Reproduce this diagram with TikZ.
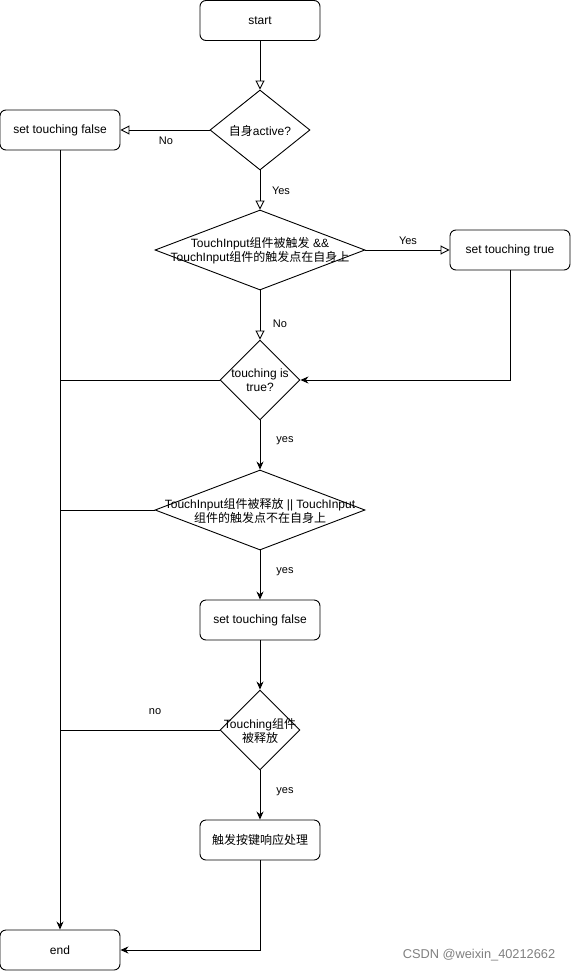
\documentclass[tikz,border=0pt]{standalone}
\usepackage{fontspec}
\setmainfont{Liberation Sans}
\newfontfamily\cjk{Noto Sans CJK SC}
\newcommand{\zh}[1]{{\cjk #1}}
\usetikzlibrary{arrows.meta,shapes.geometric}
\begin{document}
\begin{tikzpicture}[x=1pt,y=-1pt,
  box/.style={draw, rounded corners=6pt, minimum width=120pt, minimum height=40pt, inner sep=0pt, font=\fontsize{12}{14}\selectfont, line width=0.9pt},
  dia/.style={draw, diamond, inner sep=0pt, line width=0.9pt},
  dtext/.style={align=center, font=\fontsize{12}{14}\selectfont, inner sep=0pt},
  lbl/.style={font=\fontsize{11}{13}\selectfont, inner sep=0pt},
  oa/.style={line width=0.9pt, -{Triangle[open,length=9pt,width=9pt]}},
  fa/.style={line width=0.9pt, -{Stealth[length=8pt,width=7pt]}},
  ln/.style={line width=0.9pt}]
\useasboundingbox (0,0) rectangle (571,971);

\node[box] (start) at (260,20.5) {start};
\node[dia, minimum width=100pt, minimum height=80pt] (d1) at (260,130) {};
\node[dtext] at (260,130.5) {\zh{自身}active?};
\node[box] (stf1) at (60,130) {set touching false};
\node[dia, minimum width=210pt, minimum height=80pt] (d2) at (260,250) {};
\node[dtext] at (260,250.5) {TouchInput\zh{组件被触发} \&\&\\TouchInput\zh{组件的触发点在自身上}};
\node[box] (stt) at (510,250) {set touching true};
\node[dia, minimum width=80pt, minimum height=80pt] (d3) at (260,380) {};
\node[dtext] at (260,380.5) {touching is\\true?};
\node[dia, minimum width=210pt, minimum height=80pt] (d4) at (260,510) {};
\node[dtext] at (260,510.5) {TouchInput\zh{组件被释放} || TouchInput\\\zh{组件的触发点不在自身上}};
\node[box] (stf2) at (260,620) {set touching false};
\node[dia, minimum width=80pt, minimum height=80pt] (d5) at (260,730) {};
\node[dtext] at (260,730.5) {Touching\zh{组件}\\\zh{被释放}};
\node[box] (act) at (260,840) {\zh{触发按键响应处理}};
\node[box] (end) at (60,950) {end};

\coordinate (j1) at (60,380);
\coordinate (j2) at (60,510);
\coordinate (j3) at (60,730);

\draw[oa] (start) -- (d1);
\draw[oa] (d1) -- (stf1);
\draw[oa] (d1) -- (d2);
\draw[oa] (d2) -- (stt);
\draw[oa] (d2) -- (d3);
\draw[fa] (stt.south) |- (d3.east);
\draw[ln] (d3.west) -- (j1);
\draw[fa] (stf1.south) -- (end.north);
\draw[fa] (d3) -- (d4);
\draw[ln] (d4.west) -- (j2);
\draw[fa] (d4) -- (stf2);
\draw[fa] (stf2) -- (d5);
\draw[ln] (d5.west) -- (j3);
\draw[fa] (d5) -- (act);
\draw[fa] (act.south) |- (end.east);

\node[lbl] at (166,140.5) {No};
\node[lbl] at (281,190.5) {Yes};
\node[lbl] at (408,240.5) {Yes};
\node[lbl] at (280,323.5) {No};
\node[lbl] at (285,440.5) {yes};
\node[lbl] at (285,571.5) {yes};
\node[lbl] at (155,711.5) {no};
\node[lbl] at (285,791.5) {yes};
\node[font=\fontsize{12.8}{15}\selectfont, text=black!50, inner sep=0pt] at (479,955) {CSDN @weixin\_40212662};
\end{tikzpicture}
\end{document}
